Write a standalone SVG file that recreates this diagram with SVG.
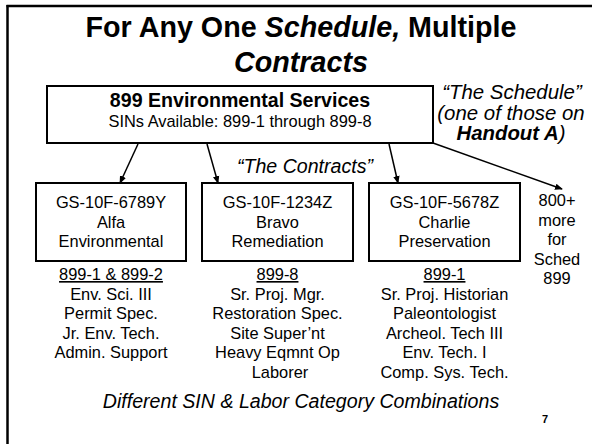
<svg xmlns="http://www.w3.org/2000/svg" width="592" height="444" viewBox="0 0 592 444">
<defs>
<style>
text{font-family:"Liberation Sans",Arial,sans-serif;fill:#000;text-anchor:middle}
.t{font-size:28.7px;font-weight:bold}
.b{font-size:16.4px}
.l{font-size:19.6px}
.n{font-size:20.4px}
.i{font-style:italic}
.bd{font-weight:bold}
.box{fill:#fff;stroke:#000;stroke-width:2}
.c line{stroke:#000;stroke-width:1.5}
</style>
<marker id="ah" markerWidth="8" markerHeight="8" refX="7" refY="4" orient="auto" markerUnits="userSpaceOnUse">
<path d="M0,0.8 L8,4 L0,7.2 Z" fill="#000"/>
</marker>
</defs>
<rect width="592" height="444" fill="#fff"/>
<g id="frame">
<line x1="6.5" y1="6" x2="592" y2="6" stroke="#000" stroke-width="2.5"/>
<line x1="7.5" y1="5" x2="7.5" y2="444" stroke="#000" stroke-width="2.5"/>
</g>
<g id="title">
<text class="t" x="301" y="37">For Any One <tspan class="i">Schedule,</tspan> Multiple</text>
<text class="t i" x="301" y="72">Contracts</text>
</g>
<g class="c" id="connectors">
<line x1="138" y1="144" x2="120" y2="183" marker-end="url(#ah)"/>
<line x1="207" y1="144" x2="218" y2="183" marker-end="url(#ah)"/>
<line x1="389" y1="144" x2="398" y2="183" marker-end="url(#ah)"/>
<line x1="433" y1="143" x2="562" y2="189" marker-end="url(#ah)"/>
</g>
<g id="schedule">
<rect class="box" x="47" y="86" width="386" height="57"/>
<text class="l bd" x="240" y="107">899 Environmental Services</text>
<text class="b" x="240" y="127">SINs Available: 899-1 through 899-8</text>
</g>
<g id="schedule-note">
<text class="n i" x="512" y="99">“The Schedule”</text>
<text class="n i" x="511" y="120">(one of those on</text>
<text class="n i" x="511" y="140"><tspan class="bd">Handout A</tspan>)</text>
</g>
<g id="contracts-note">
<text class="l i" x="305" y="173">“The Contracts”</text>
</g>
<g id="alfa">
<rect class="box" x="36" y="183" width="150" height="78"/>
<text class="b" x="111" y="208">GS-10F-6789Y</text>
<text class="b" x="111" y="227.5">Alfa</text>
<text class="b" x="111" y="247">Environmental</text>
<text class="b" x="111" y="280" text-decoration="underline">899-1 &amp; 899-2</text>
<text class="b" x="111" y="299.5">Env. Sci. III</text>
<text class="b" x="111" y="319">Permit Spec.</text>
<text class="b" x="111" y="338.5">Jr. Env. Tech.</text>
<text class="b" x="111" y="358">Admin. Support</text>
</g>
<g id="bravo">
<rect class="box" x="202" y="183" width="151" height="78"/>
<text class="b" x="277.5" y="208">GS-10F-1234Z</text>
<text class="b" x="277.5" y="227.5">Bravo</text>
<text class="b" x="277.5" y="247">Remediation</text>
<text class="b" x="277.5" y="280" text-decoration="underline">899-8</text>
<text class="b" x="277.5" y="299.5">Sr. Proj. Mgr.</text>
<text class="b" x="277.5" y="319">Restoration Spec.</text>
<text class="b" x="277.5" y="338.5">Site Super’nt</text>
<text class="b" x="277.5" y="358">Heavy Eqmnt Op</text>
<text class="b" x="280" y="377.5">Laborer</text>
</g>
<g id="charlie">
<rect class="box" x="369" y="183" width="151" height="78"/>
<text class="b" x="444.5" y="208">GS-10F-5678Z</text>
<text class="b" x="444.5" y="227.5">Charlie</text>
<text class="b" x="444.5" y="247">Preservation</text>
<text class="b" x="444.5" y="280" text-decoration="underline">899-1</text>
<text class="b" x="444.5" y="299.5">Sr. Proj. Historian</text>
<text class="b" x="444.5" y="319">Paleontologist</text>
<text class="b" x="444.5" y="338.5">Archeol. Tech III</text>
<text class="b" x="444.5" y="358">Env. Tech. I</text>
<text class="b" x="444.5" y="377.5">Comp. Sys. Tech.</text>
</g>
<g id="more">
<text class="b" x="557" y="206">800+</text>
<text class="b" x="557" y="225.5">more</text>
<text class="b" x="557" y="245">for</text>
<text class="b" x="557" y="264.5">Sched</text>
<text class="b" x="557" y="284">899</text>
</g>
<g id="footer">
<text class="l i" x="301" y="408">Different SIN &amp; Labor Category Combinations</text>
<text x="545" y="423" style="font-size:11px;font-weight:bold">7</text>
</g>
</svg>
